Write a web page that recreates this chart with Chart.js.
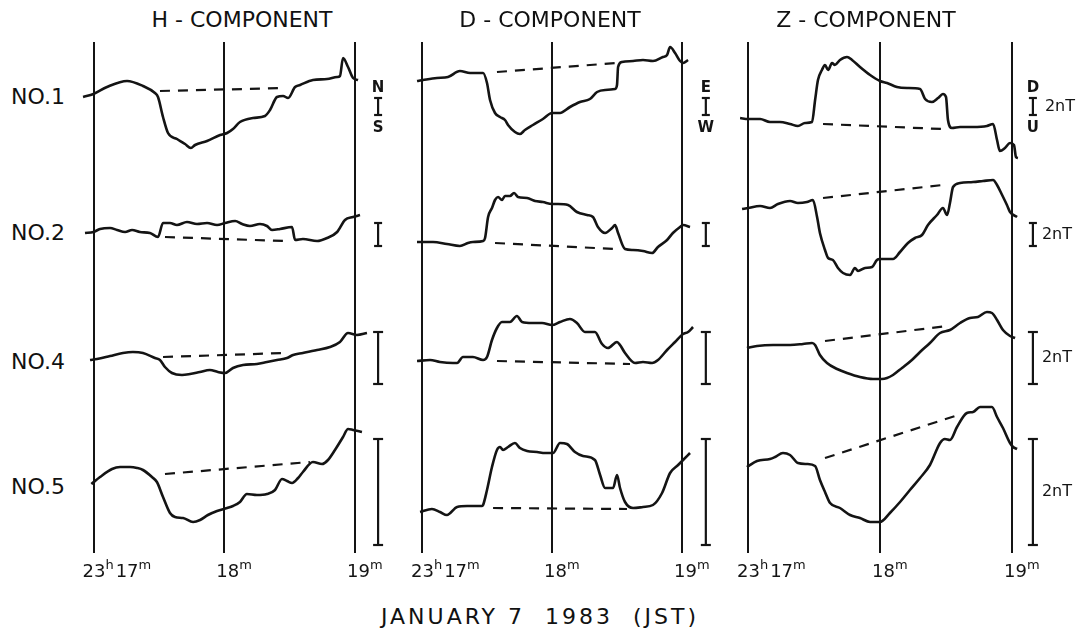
<!DOCTYPE html>
<html>
<head>
<meta charset="utf-8">
<script src="https://cdn.jsdelivr.net/npm/chart.js@4.4.0/dist/chart.umd.min.js"></script>
<style>
  html, body { margin: 0; padding: 0; background: #fff; overflow: hidden; }
  body { width: 1084px; height: 637px; position: relative; font-family: "DejaVu Sans", sans-serif; color: #111; }
  canvas { position: absolute; top: 42px; }
  .lbl { position: absolute; transform: translateY(-50%); white-space: pre; line-height: 1; }
  .row { left: 11px; font-size: 22px; }
  .title { top: 20px; font-size: 22px; transform: translate(-50%, -50%); }
  .caption { left: 540px; top: 617px; font-size: 22px; letter-spacing: 3px; transform: translate(-50%, -50%); }
</style>
</head>
<body>
<canvas id="chartH" width="350" height="556"></canvas>
<canvas id="chartD" width="350" height="556"></canvas>
<canvas id="chartZ" width="354" height="556"></canvas>

<script>
// 관측점 이름과 세로 위치(기준선 오프셋)
const rowNames = ['NO.1', 'NO.2', 'NO.4', 'NO.5'];
const rowOffsets = [0, -13.6, -26.5, -39.0];

// x축: 23h17m 이후 경과 초, 눈금
const tickValues = [0, 60, 120];
const tickLabels = [['23', 'h', '17', 'm'], ['18', 'm'], ['19', 'm']];

// 패널 제목과 방향 표시
const titles = ['H - COMPONENT', 'D - COMPONENT', 'Z - COMPONENT'];
const senseLabels = [['N', 'S'], ['E', 'W'], ['D', 'U']];
const unitLabel = '2nT';

// 스케일 바 (각 관측점 2nT)
const barTimes = [130.6, 131, 129.5];
const barTop = [-0.1, 1.0, 3.0, 4.8];
const barBottom = [-1.8, -1.3, -2.2, -5.8];

// H 성분 [초, 변위]
const hNo1 = [[-4.8,0],[0,0.3],[6.2,1.0],[15.4,1.6],[22.7,1.1],[28.2,0.4],[29.6,0],[31.9,-2.0],[34.2,-3.6],[38.3,-4.2],[42.0,-4.7],[44.7,-5.1],[46.6,-4.8],[52.1,-4.4],[58.1,-3.8],[61.3,-3.6],[64.0,-3.2],[67.2,-2.5],[73.2,-2.1],[78.7,-1.9],[81.0,-1.3],[84.2,0],[87.0,0.1],[89.3,-0.1],[92.5,1.0],[94.8,1.2],[100.7,1.7],[107.2,1.8],[111.8,2.0],[113.1,2.1],[114.5,3.9],[116.8,3.0],[119.1,1.9],[121.4,1.7]];
const hNo2 = [[-3.9,0],[0,0.1],[3.0,0.4],[7.6,0.5],[10.8,0.3],[14.5,0.1],[17.7,0.3],[21.3,0.1],[25.9,0],[29.6,-0.4],[31.9,1.0],[35.1,1.0],[38.3,0.8],[42.9,1.1],[47.5,0.9],[52.1,1.0],[56.7,0.8],[60.4,1.0],[65.0,1.2],[68.2,0.9],[71.8,0.7],[76.4,0.9],[79.6,0.7],[81.9,0.3],[85.6,0.4],[91.1,0.6],[92.5,-0.7],[96.1,-0.6],[102.6,-0.8],[107.2,-0.5],[111.8,0.1],[115.4,1.3],[119.1,1.6],[122.3,1.8]];
const hNo4 = [[-1.6,0.2],[1.6,0.3],[7.6,0.6],[13.5,0.9],[18.1,1.0],[22.7,0.9],[28.2,0.4],[30.5,0.2],[32.8,-0.5],[36.0,-1.1],[40.6,-1.3],[44.3,-1.2],[48.8,-1.0],[53.4,-0.8],[57.1,-1.0],[60.4,-1.1],[64.0,-0.6],[68.6,-0.3],[75.0,-0.2],[79.6,0],[84.2,0.2],[88.8,0.4],[91.6,0.7],[96.1,0.9],[102.6,1.2],[108.5,1.5],[113.1,2.0],[116.8,2.9],[120.9,2.7],[125.5,2.9]];
const hNo5 = [[-1,0.3],[3.0,1.0],[8.5,1.8],[12.2,2.0],[16.8,2.0],[20.0,1.9],[22.7,1.7],[26.8,1.0],[29.1,0.5],[31.9,-1.0],[35.1,-2.6],[37.4,-3.0],[41.1,-3.1],[45.7,-3.5],[48.9,-3.3],[52.5,-2.8],[56.7,-2.4],[61.3,-2.1],[64.0,-1.9],[67.2,-1.5],[70.4,-0.7],[75.0,-0.8],[79.6,-0.7],[83.3,-0.3],[86.5,0.8],[88.8,0.6],[91.1,0.4],[93.9,0.9],[96.1,1.5],[100.7,2.5],[104.9,2.3],[107.6,2.7],[110.8,3.7],[114.5,5.0],[116.8,5.8],[119.1,5.7],[123.2,5.5]];
const hDash = [[[30.5,0.6],[88,0.9]], [[32.8,-0.4],[87.9,-0.8]], [[31.9,0.5],[87.9,0.9]], [[32.8,1.3],[99.3,2.5]]];

// D 성분
const dNo1 = [[-2.3,1.6],[0.5,1.7],[6.9,1.9],[12.0,2.0],[17.5,2.6],[22.2,2.4],[28.2,2.4],[30.0,1.4],[31.4,-0.3],[33.7,-1.6],[36.0,-2.0],[38.3,-2.3],[39.7,-2.8],[42.9,-3.5],[45.2,-3.7],[47.5,-3.3],[51.2,-2.8],[55.8,-2.2],[60.0,-1.6],[63.7,-1.6],[68.3,-1.0],[72.9,-0.5],[77.5,-0.2],[80.8,0.5],[84.5,0.7],[89.1,0.8],[90.0,1.2],[90.5,3.0],[92.3,3.5],[97.4,3.6],[102.0,3.7],[106.6,3.6],[111.2,4.0],[113.1,4.2],[114.5,5.0],[116.8,4.4],[119.1,3.6],[120.5,3.4],[122.8,3.7]];
const dNo2 = [[-2.3,-0.9],[5.1,-0.9],[11.5,-1.1],[17.5,-1.3],[21.2,-1.0],[23.5,-0.9],[28.2,-0.8],[29.1,-0.5],[30.5,1.6],[32.3,2.5],[33.7,3.3],[35.1,3.6],[36.9,3.3],[38.3,3.7],[40.6,3.7],[42.5,4.0],[44.3,3.6],[48.5,3.5],[52.2,3.2],[55.8,3.1],[60.0,2.9],[62.8,2.9],[67.4,2.8],[71.5,2.1],[76.2,1.8],[78.9,1.6],[81.2,0.6],[84.5,0],[87.7,0.5],[89.1,0.8],[90.5,0],[93.7,-1.6],[97.4,-1.7],[102.0,-1.8],[106.2,-2.0],[108.9,-1.4],[113.1,-0.7],[115.8,0],[119.1,0.6],[120.5,0.8],[123.7,0.6]];
const dNo4 = [[-2.3,0.1],[3.7,0.2],[8.3,0],[14.3,-0.1],[16.2,-0.1],[18.9,0.5],[23.5,0.5],[28.2,0.2],[30.0,0.5],[32.3,2.2],[34.6,3.4],[36.9,4.0],[40.6,4.0],[43.8,4.6],[46.2,4.0],[50.8,3.9],[55.4,3.9],[60.0,3.7],[63.7,4.0],[68.3,4.3],[71.5,3.9],[75.2,3.0],[79.8,3.0],[83.1,1.8],[85.8,1.4],[90.0,2.0],[91.4,1.7],[93.7,0.9],[98.3,-0.1],[102.0,0],[106.2,-0.1],[108.9,0.2],[113.1,1.2],[116.8,2.0],[120.5,2.8],[122.8,3.0],[125.1,3.5]];
const dNo5 = [[-0.9,-2.5],[4.6,-2.2],[8.3,-2.5],[11.5,-2.8],[16.2,-2.0],[20.8,-1.9],[27.7,-1.9],[28.2,-1.8],[30.0,-0.3],[32.3,2.0],[34.6,3.7],[36.0,4.0],[37.4,3.7],[39.7,4.0],[42.9,4.4],[45.2,3.9],[48.5,3.6],[53.1,3.5],[56.8,3.4],[60.5,3.4],[63.7,4.4],[66.9,4.3],[70.6,3.5],[74.3,3.1],[79.8,2.7],[82.2,1.2],[84.5,-0.1],[88.2,-0.1],[90.0,1.2],[91.4,-0.1],[93.7,-1.5],[97.4,-2.1],[102.0,-2.0],[106.6,-1.8],[110.8,-0.6],[114.5,1.4],[118.2,2.2],[120.5,2.7],[123.7,3.4]];
const dDash = [[[34.6,2.5],[90,3.4]], [[33.7,-1.0],[89.1,-1.6]], [[34.6,0.1],[96,-0.2]], [[32.8,-2.1],[94.6,-2.2]]];

// Z 성분
const zNo1 = [[-3.6,-2.1],[0,-2.2],[5.5,-2.2],[10.0,-2.5],[14.5,-2.5],[19.1,-2.7],[22.7,-2.9],[25.9,-2.6],[29.1,-2.5],[30.5,-0.3],[31.8,1.7],[33.6,2.7],[35.0,3.2],[36.4,2.7],[38.2,3.4],[39.5,3.2],[41.8,3.7],[45.0,4.0],[47.3,3.7],[50.9,3.0],[55.5,2.2],[60.0,1.6],[63.2,1.4],[67.7,1.0],[72.3,0.9],[78.2,0.8],[80.5,-0.2],[83.6,-0.5],[86.4,-0.1],[88.6,0.3],[90.0,0],[90.9,-2.3],[92.7,-3.1],[96.4,-3.0],[102.3,-3.0],[108.6,-2.9],[111.4,-2.7],[113.2,-4.3],[114.5,-5.4],[116.8,-5.1],[119.1,-4.6],[120.9,-4.8],[121.8,-6.0],[122.7,-6.1]];
const zNo2 = [[-2.7,2.4],[0,2.5],[5.5,2.7],[10.0,2.5],[13.6,2.9],[19.1,3.2],[22.7,3.0],[26.8,3.1],[29.5,3.3],[31.4,1.6],[32.7,0],[35.0,-1.7],[36.4,-2.5],[38.6,-2.7],[40.9,-3.5],[43.2,-4.0],[46.4,-4.2],[48.6,-3.5],[50.0,-3.8],[53.2,-3.5],[56.4,-3.4],[58.6,-2.7],[60.0,-2.6],[65.9,-2.6],[69.1,-1.9],[72.7,-1.0],[75.9,-0.5],[79.1,-0.2],[81.8,0.8],[85.9,1.8],[88.6,2.5],[90.5,1.8],[91.8,3.0],[93.2,4.6],[96.4,5.0],[102.3,5.1],[106.8,5.2],[111.4,5.3],[113.2,4.8],[115.5,3.8],[117.7,2.8],[119.1,2.1],[122.3,1.6]];
const zNo4 = [[-0.5,1.4],[4.1,1.6],[11.4,1.7],[19.1,1.7],[25.0,1.8],[29.1,1.9],[30.5,1.7],[32.7,0.7],[35.9,-0.1],[40.5,-0.7],[45.0,-1.1],[50.9,-1.5],[56.8,-1.7],[60.9,-1.7],[63.2,-1.6],[65.9,-1.3],[70.0,-0.6],[74.5,0.2],[78.2,1.0],[82.7,1.9],[87.3,2.9],[91.8,3.2],[96.4,3.9],[100.9,4.4],[104.5,4.5],[108.6,5.0],[110.9,4.9],[113.2,4.2],[115.9,3.2],[119.1,2.6],[121.4,2.4]];
const zNo5 = [[-0.5,2.0],[4.1,2.6],[10.0,2.8],[12.3,3.0],[15.9,3.4],[19.1,3.2],[22.7,2.4],[26.8,2.3],[30.5,2.1],[32.7,0.7],[35.0,-0.5],[37.3,-1.6],[41.8,-2.1],[46.4,-2.8],[50.9,-3.1],[55.5,-3.5],[60.0,-3.5],[64.5,-2.6],[69.1,-1.5],[73.6,-0.3],[78.2,0.9],[82.7,2.2],[87.3,4.4],[89.5,4.8],[91.8,4.7],[95.0,6.0],[99.5,7.4],[102.3,7.5],[105.5,8.0],[108.6,8.0],[110.9,8.0],[113.2,7.0],[115.9,5.9],[119.1,4.4],[120.5,4.0],[122.3,3.8]];
const zDash = [[[34.1,-2.7],[88.2,-3.2]], [[34.1,3.5],[88.6,4.8]], [[35,2.1],[90.5,3.6]], [[35,2.9],[95.5,7.2]]];

const panelTraces = [[hNo1, hNo2, hNo4, hNo5], [dNo1, dNo2, dNo4, dNo5], [zNo1, zNo2, zNo4, zNo5]];
const panelDashes = [hDash, dDash, zDash];

// 패널 배치 (화면 픽셀): 17m, 19m 세로선 위치와 캔버스 위치
const panels = [
    { id: 'chartH', x0: 93.5, x1: 355, left: 76, area: 322 },
    { id: 'chartD', x0: 422, x1: 682, left: 404, area: 322 },
    { id: 'chartZ', x0: 748, x1: 1012, left: 730, area: 326 }
];
const yMin = -45.6, yMax = 5.5;
const ink = '#141414';
const fontFamily = '"DejaVu Sans", sans-serif';

function toPoints(pairs, offset) {
    return pairs.map(p => ({ x: p[0], y: p[1] + offset }));
}

// 눈금 라벨, 방향 표시, 2nT 글자
const annotate = {
    id: 'annotate',
    afterDraw(chart, args, opts) {
        const ctx = chart.ctx;
        const xs = chart.scales.x, ys = chart.scales.y;
        const k = opts.panel;
        ctx.save();
        ctx.fillStyle = ink;
        ctx.textBaseline = 'alphabetic';
        // 시간 눈금
        tickValues.forEach((v, i) => {
            let x = xs.getPixelForValue(v) - (i === 0 ? 11 : 8);
            const y = chart.chartArea.bottom + 24;
            tickLabels[i].forEach((part, j) => {
                const sup = j % 2 === 1;
                ctx.font = (sup ? '13px ' : '18px ') + fontFamily;
                ctx.fillText(part, x, sup ? y - 8 : y);
                x += ctx.measureText(part).width + (sup ? 2 : 0);
            });
        });
        // NO.1 방향 글자
        const bx = xs.getPixelForValue(barTimes[k]);
        ctx.font = 'bold 15px ' + fontFamily;
        ctx.textAlign = 'center';
        ctx.textBaseline = 'middle';
        ctx.fillText(senseLabels[k][0], bx, ys.getPixelForValue(rowOffsets[0] + 0.85));
        ctx.fillText(senseLabels[k][1], bx, ys.getPixelForValue(rowOffsets[0] - 3.15));
        // 2nT
        if (k === 2) {
            ctx.font = '16px ' + fontFamily;
            ctx.textAlign = 'left';
            rowOffsets.forEach((off, r) => {
                const dx = r === 0 ? 12 : 9;
                ctx.fillText(unitLabel, bx + dx, ys.getPixelForValue(off + (barTop[r] + barBottom[r]) / 2));
            });
        }
        ctx.restore();
    }
};

panels.forEach((p, k) => {
    const pps = (p.x1 - p.x0) / 120;
    const xMin = (p.left - p.x0) / pps;
    const xMax = (p.left + p.area - p.x0) / pps;
    const canvas = document.getElementById(p.id);
    canvas.style.left = p.left + 'px';

    const datasets = [];
    panelTraces[k].forEach((tr, r) => {
        datasets.push({
            data: toPoints(tr, rowOffsets[r]),
            borderColor: ink, borderWidth: 2.6, pointRadius: 0,
            cubicInterpolationMode: 'monotone', fill: false
        });
        datasets.push({
            data: toPoints(panelDashes[k][r], rowOffsets[r]),
            borderColor: ink, borderWidth: 2.2, pointRadius: 0,
            borderDash: [10, 8], fill: false
        });
        datasets.push({
            data: [{ x: barTimes[k], y: rowOffsets[r] + barTop[r] }, { x: barTimes[k], y: rowOffsets[r] + barBottom[r] }],
            borderColor: ink, borderWidth: 2.2, showLine: true,
            pointStyle: 'line', pointRadius: r < 2 ? 4 : 5, pointBorderWidth: 2.2,
            pointBorderColor: ink, fill: false
        });
    });

    new Chart(canvas.getContext('2d'), {
        type: 'line',
        data: { datasets: datasets },
        options: {
            responsive: false,
            animation: false,
            layout: { autoPadding: false, padding: { left: 0, top: 0, right: canvas.width - p.area, bottom: 45 } },
            scales: {
                x: {
                    type: 'linear', min: xMin, max: xMax,
                    afterBuildTicks: s => { s.ticks = tickValues.map(v => ({ value: v })); },
                    ticks: { display: false },
                    grid: { drawTicks: false, color: ink, lineWidth: 2 },
                    border: { display: false }
                },
                y: { type: 'linear', min: yMin, max: yMax, display: false }
            },
            plugins: {
                legend: { display: false },
                tooltip: { enabled: false },
                annotate: { panel: k }
            }
        },
        plugins: [annotate]
    });
});

// 관측점 이름, 제목, 아래 설명은 HTML 글자로
const titleCentres = [242, 550, 866];
const rowCentres = [97, 233, 362, 487];
rowNames.forEach((n, i) => {
    const d = document.createElement('div');
    d.className = 'lbl row';
    d.style.top = rowCentres[i] + 'px';
    d.textContent = n;
    document.body.appendChild(d);
});
titles.forEach((t, i) => {
    const d = document.createElement('div');
    d.className = 'lbl title';
    d.style.left = titleCentres[i] + 'px';
    d.textContent = t;
    document.body.appendChild(d);
});
const cap = document.createElement('div');
cap.className = 'lbl caption';
cap.textContent = 'JANUARY 7  1983  (JST)';
document.body.appendChild(cap);
</script>
</body>
</html>
